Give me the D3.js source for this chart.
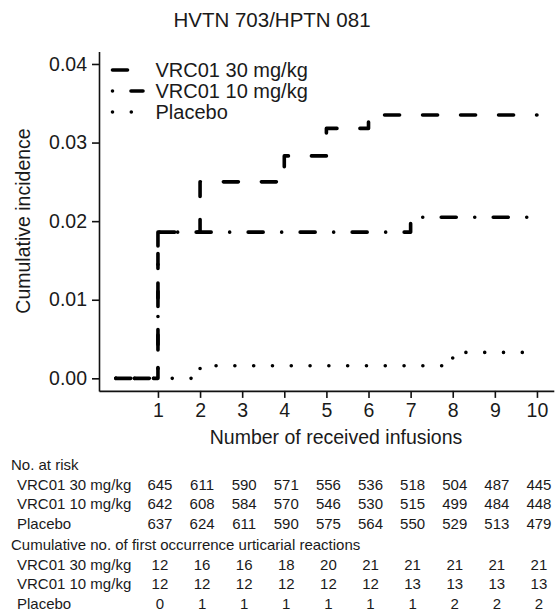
<!doctype html>
<html lang="en">
<head>
  <meta charset="UTF-8">
  <title>HVTN 703/HPTN 081</title>
  <script src="https://d3js.org/d3.v7.min.js" charset="utf-8"></script>
  <style>
    body { margin: 0; background: #fff; }
    text { font-family: "Liberation Sans", Arial, sans-serif; fill: #1a1a1a; }
  </style>
</head>
<body>
  <script>

    var infusions = [1, 2, 3, 4, 5, 6, 7, 8, 9, 10];
    var curveX = [0, 1, 2, 3, 4, 5, 6, 7, 8, 9, 10];

    // cumulative incidence (value from each x until the next)
    var inc30 = [0, 0.0186, 0.0250, 0.0250, 0.0283, 0.0318, 0.0335, 0.0335, 0.0335, 0.0335, 0.0335];
    var inc10 = [0, 0.0186, 0.0186, 0.0186, 0.0186, 0.0186, 0.0186, 0.0205, 0.0205, 0.0205, 0.0205];
    var incPl = [0, 0, 0.0016, 0.0016, 0.0016, 0.0016, 0.0016, 0.0016, 0.0033, 0.0033, 0.0033];

    var groupNames = ["VRC01 30 mg/kg", "VRC01 10 mg/kg", "Placebo"];

    var atRisk30 = [645, 611, 590, 571, 556, 536, 518, 504, 487, 445];
    var atRisk10 = [642, 608, 584, 570, 546, 530, 515, 499, 484, 448];
    var atRiskPl = [637, 624, 611, 590, 575, 564, 550, 529, 513, 479];

    var cum30 = [12, 16, 16, 18, 20, 21, 21, 21, 21, 21];
    var cum10 = [12, 12, 12, 12, 12, 12, 13, 13, 13, 13];
    var cumPl = [0, 1, 1, 1, 1, 1, 1, 2, 2, 2];

    var yTicks = [0, 0.01, 0.02, 0.03, 0.04];

    var width = 556, height = 616;

    var svg = d3.select("body").append("svg")
        .attr("width", width)
        .attr("height", height);

    var x = d3.scaleLinear().domain([-0.4, 10.4]).range([99, 553.8]);
    var y = d3.scaleLinear().domain([-0.0016, 0.0416]).range([390.9, 51.4]);

    svg.append("text")
        .attr("x", 272)
        .attr("y", 27)
        .attr("text-anchor", "middle")
        .style("font-size", "20.5px")
        .text("HVTN 703/HPTN 081");

    var xAxis = d3.axisBottom(x)
        .tickValues(infusions)
        .tickSize(7)
        .tickSizeOuter(0)
        .tickPadding(5)
        .tickFormat(d3.format("d"));

    var yAxis = d3.axisLeft(y)
        .tickValues(yTicks)
        .tickSize(7)
        .tickSizeOuter(0)
        .tickPadding(5)
        .tickFormat(d3.format(".2f"));

    var gx = svg.append("g")
        .attr("transform", "translate(0," + y.range()[0] + ")")
        .call(xAxis);

    var gy = svg.append("g")
        .attr("transform", "translate(" + x.range()[0] + ",0)")
        .call(yAxis);

    [gx, gy].forEach(function (g) {
      g.selectAll("path, line").attr("stroke", "#111").attr("stroke-width", 1.6);
      g.selectAll("text")
          .style("font-size", "19.5px")
          .style("font-family", "'Liberation Sans', Arial, sans-serif")
          .attr("fill", "#1a1a1a");
    });

    svg.append("text")
        .attr("x", 336)
        .attr("y", 444)
        .attr("text-anchor", "middle")
        .style("font-size", "19.5px")
        .text("Number of received infusions");

    svg.append("text")
        .attr("transform", "translate(30,221) rotate(-90)")
        .attr("text-anchor", "middle")
        .style("font-size", "19.5px")
        .text("Cumulative incidence");

    // line styles: dashed, dot-dash, dotted
    var styles = [
      { dash: "15,23", offset: 0 },
      { dash: "15,18.5,0,18.5", offset: 33.5 },
      { dash: "0,18.8", offset: 0 }
    ];
    var series = [inc30, inc10, incPl];

    var line = d3.line()
        .x(function (d) { return x(d[0]); })
        .y(function (d) { return y(d[1]); })
        .curve(d3.curveStepAfter);

    series.forEach(function (vals, i) {
      var pts = curveX.map(function (cx, j) { return [cx, vals[j]]; });
      svg.append("path")
          .attr("d", line(pts))
          .attr("fill", "none")
          .attr("stroke", "#000")
          .attr("stroke-width", 3.6)
          .attr("stroke-linecap", "round")
          .attr("stroke-linejoin", "round")
          .attr("stroke-dasharray", styles[i].dash)
          .attr("stroke-dashoffset", styles[i].offset);
    });

    // legend
    var legY = [70, 91, 112];
    groupNames.forEach(function (name, i) {
      svg.append("line")
          .attr("x1", 112.5).attr("x2", 143)
          .attr("y1", legY[i]).attr("y2", legY[i])
          .attr("stroke", "#000")
          .attr("stroke-width", 3.6)
          .attr("stroke-linecap", "round")
          .attr("stroke-dasharray", styles[i].dash)
          .attr("stroke-dashoffset", styles[i].offset);
      svg.append("text")
          .attr("x", 155.5)
          .attr("y", legY[i] + 7)
          .style("font-size", "20px")
          .text(name);
    });

    // risk table
    var tableRows = [
      { head: "No. at risk", rows: [atRisk30, atRisk10, atRiskPl], y0: 470 },
      { head: "Cumulative no. of first occurrence urticarial reactions", rows: [cum30, cum10, cumPl], y0: 550 }
    ];
    var rowStep = 19.5;

    tableRows.forEach(function (block) {
      svg.append("text")
          .attr("x", 11)
          .attr("y", block.y0)
          .style("font-size", "15px")
          .text(block.head);

      block.rows.forEach(function (vals, r) {
        var by = block.y0 + (r + 1) * rowStep;
        svg.append("text")
            .attr("x", 17)
            .attr("y", by)
            .style("font-size", "15px")
            .text(groupNames[r]);

        svg.selectAll(null)
            .data(vals)
            .enter()
            .append("text")
            .attr("x", function (d, k) { return x(infusions[k]) + 2; })
            .attr("y", by)
            .attr("text-anchor", "middle")
            .style("font-size", "15px")
            .text(function (d) { return d; });
      });
    });

  </script>
</body>
</html>
